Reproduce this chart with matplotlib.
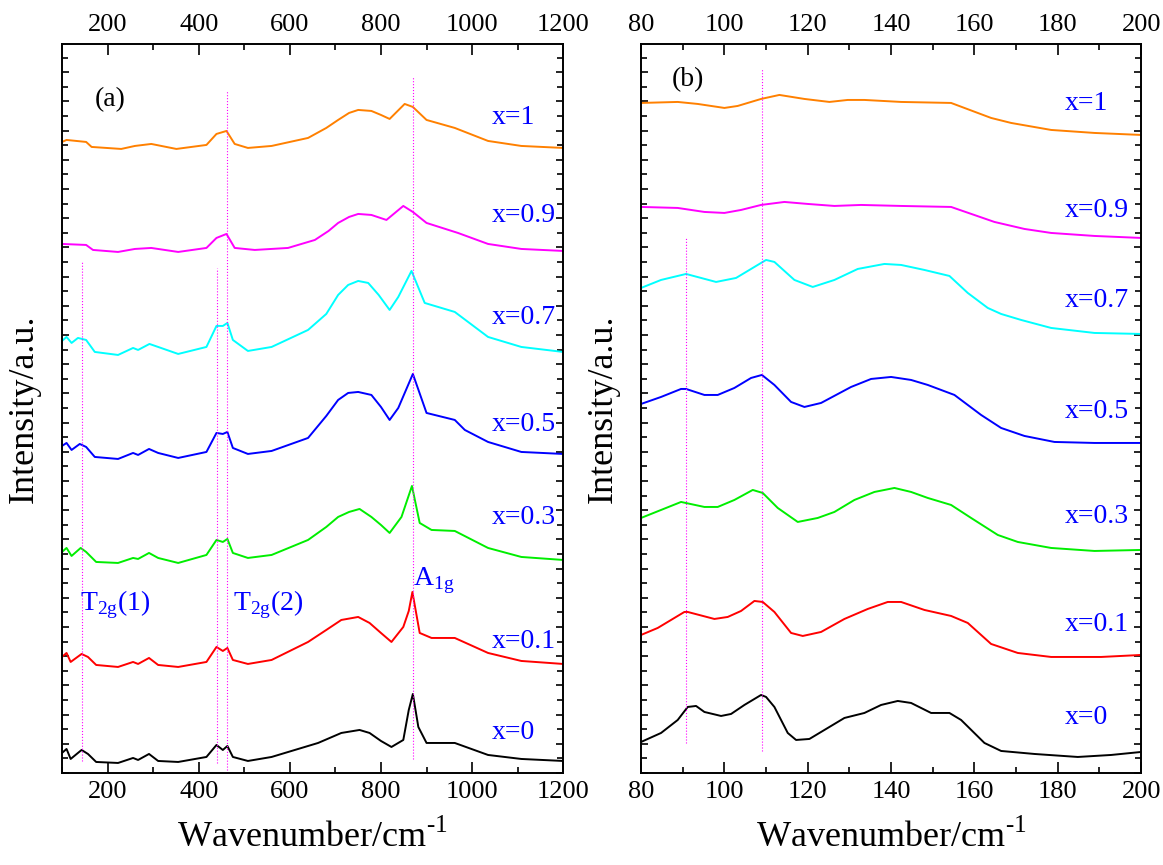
import matplotlib.pyplot as plt
from matplotlib.ticker import MultipleLocator, NullFormatter

plt.rcParams['font.family'] = ['Liberation Serif', 'DejaVu Serif']
plt.rcParams['mathtext.fontset'] = 'custom'
plt.rcParams['mathtext.rm'] = 'Liberation Serif'

# ---- panel (a): full range, offset spectra (arbitrary units) ----
a1_wn = [100, 110, 153, 165, 230, 260, 296, 351, 417, 439, 461, 479, 508, 560, 640, 680, 706, 730, 750, 779, 800, 819, 852, 870, 900, 962, 1035, 1108, 1200]
a1_int = [631, 633, 631, 626, 624, 627, 629, 624, 628, 639, 642, 629, 625, 627, 635, 645, 653, 660, 663, 662, 658, 654, 669, 666, 653, 645, 632, 627, 625]

a09_wn = [100, 153, 168, 223, 260, 296, 355, 417, 439, 461, 479, 523, 596, 655, 685, 706, 730, 750, 779, 812, 849, 870, 900, 969, 1035, 1108, 1200]
a09_int = [529, 528, 523, 521, 524, 525, 521, 525, 535, 539, 525, 523, 525, 533, 542, 550, 556, 559, 558, 553, 567, 561, 550, 540, 529, 524, 522]

a07_wn = [100, 110, 121, 135, 153, 172, 223, 256, 267, 292, 311, 355, 417, 439, 453, 463, 475, 508, 560, 640, 680, 706, 728, 750, 772, 795, 819, 838, 867, 896, 962, 1035, 1108, 1200]
a07_int = [432, 436, 430, 435, 433, 421, 418, 425, 423, 429, 426, 419, 426, 447, 447, 450, 433, 422, 426, 443, 459, 478, 488, 492, 490, 478, 463, 476, 502, 470, 461, 436, 426, 421]

a05_wn = [100, 110, 121, 139, 153, 172, 223, 256, 267, 291, 311, 355, 417, 439, 453, 463, 475, 508, 560, 640, 680, 706, 728, 750, 779, 800, 819, 838, 870, 900, 962, 984, 1035, 1108, 1200]
a05_int = [327, 330, 323, 329, 326, 316, 314, 320, 318, 324, 320, 315, 321, 340, 339, 341, 325, 319, 322, 335, 357, 373, 380, 381, 378, 366, 353, 365, 399, 360, 353, 343, 331, 321, 319]

a03_wn = [100, 110, 121, 141, 153, 175, 223, 256, 267, 291, 311, 355, 417, 439, 453, 463, 475, 508, 560, 640, 680, 706, 730, 753, 779, 800, 819, 845, 868, 885, 911, 962, 1035, 1108, 1200]
a03_int = [221, 225, 217, 225, 221, 211, 210, 215, 214, 220, 215, 210, 218, 233, 231, 234, 220, 215, 218, 233, 246, 256, 261, 264, 256, 248, 240, 256, 287, 250, 243, 242, 225, 216, 213]

a01_wn = [100, 110, 119, 143, 157, 175, 223, 256, 267, 291, 311, 355, 417, 439, 453, 463, 475, 508, 560, 640, 680, 713, 750, 775, 800, 823, 849, 861, 869, 885, 911, 962, 1035, 1108, 1200]
a01_int = [116, 120, 111, 119, 116, 108, 106, 111, 109, 115, 108, 106, 111, 126, 122, 125, 113, 109, 113, 131, 143, 153, 156, 150, 140, 131, 146, 162, 181, 140, 135, 135, 120, 112, 109]

a0_wn = [100, 110, 119, 143, 157, 175, 223, 256, 267, 291, 311, 355, 417, 439, 453, 463, 475, 508, 560, 662, 713, 753, 775, 800, 823, 849, 861, 870, 882, 900, 962, 1035, 1108, 1200]
a0_int = [20, 24, 14, 23, 19, 11, 10, 15, 13, 19, 12, 11, 16, 28, 23, 27, 16, 12, 16, 30, 40, 43, 40, 32, 26, 33, 63, 79, 46, 30, 30, 18, 14, 12]

# ---- panel (b): low-wavenumber range ----
b1_wn = [80, 88.8, 93.6, 100, 103.2, 108.8, 113.2, 119.2, 125.2, 129.6, 133.6, 142.4, 154.4, 164, 168.8, 178.4, 188.8, 200]
b1_int = [670, 671, 669, 665, 667, 674, 678, 674, 671, 673, 673, 671, 670, 655, 650, 643, 640, 638]

b09_wn = [80, 88.8, 95.2, 100, 104, 108.8, 114.4, 120, 126.4, 132.8, 142.4, 154.4, 164.8, 172, 178.4, 188.8, 200]
b09_int = [566, 565, 561, 560, 563, 568, 571, 569, 567, 568, 567, 566, 551, 544, 540, 537, 535]

b07_wn = [80, 84.8, 90.8, 98, 102.8, 110, 112, 116.8, 121.2, 126.4, 132, 138.4, 142.4, 148, 154, 158.4, 163.2, 166.4, 171.2, 178.4, 188.8, 200]
b07_int = [485, 493, 499, 491, 495, 513, 511, 493, 486, 493, 504, 509, 508, 503, 497, 480, 465, 459, 453, 445, 440, 439]

b05_wn = [80, 84.8, 89.6, 90.8, 95.2, 98.4, 102.4, 106.4, 109, 112, 116, 119.2, 123.2, 130.4, 135.2, 140, 144.8, 148.8, 155.2, 161.6, 166.4, 172, 179.2, 188.8, 200]
b05_int = [369, 376, 384, 384, 378, 378, 385, 395, 398, 388, 371, 366, 370, 386, 394, 396, 393, 388, 378, 358, 345, 337, 331, 330, 330]

b03_wn = [80, 84.8, 89.6, 95.2, 98.4, 102.4, 106.8, 109.2, 112.8, 117.6, 122.4, 126.4, 131.2, 136, 140.8, 144.8, 148.8, 154.4, 159.2, 165.6, 170.4, 178.4, 188.8, 200]
b03_int = [255, 263, 271, 266, 266, 273, 283, 280, 265, 251, 255, 261, 273, 281, 285, 281, 275, 268, 255, 238, 231, 225, 222, 223]

b01_wn = [80, 84, 90.4, 91.2, 97.6, 100.8, 104, 107.2, 109.2, 112, 116, 118.8, 123.2, 128.8, 134.4, 139.2, 142.4, 148, 154.4, 158.4, 164, 170.4, 178.4, 190.4, 200]
b01_int = [138, 145, 161, 161, 154, 156, 162, 172, 171, 161, 140, 137, 141, 154, 164, 171, 171, 163, 157, 150, 129, 120, 116, 116, 118]

b0_wn = [80, 84.8, 88.8, 91.2, 93.2, 95.2, 99.2, 101.6, 104.8, 108.8, 110, 112, 115.2, 117.2, 120.4, 124.8, 128.8, 133.6, 137.6, 141.6, 144.8, 149.6, 154, 156.8, 162.4, 166.4, 174.4, 184.8, 192.8, 200]
b0_int = [31, 40, 53, 66, 67, 61, 57, 59, 68, 78, 76, 66, 40, 33, 34, 45, 55, 60, 68, 72, 70, 60, 60, 53, 30, 22, 19, 16, 18, 21]

colors = ['#ff8000', '#ff00ff', '#00ffff', '#0000ff', '#00ee00', '#ff0000', '#000000']
names = ['x=1', 'x=0.9', 'x=0.7', 'x=0.5', 'x=0.3', 'x=0.1', 'x=0']

a_curves = [(a1_wn, a1_int), (a09_wn, a09_int), (a07_wn, a07_int), (a05_wn, a05_int),
            (a03_wn, a03_int), (a01_wn, a01_int), (a0_wn, a0_int)]
b_curves = [(b1_wn, b1_int), (b09_wn, b09_int), (b07_wn, b07_int), (b05_wn, b05_int),
            (b03_wn, b03_int), (b01_wn, b01_int), (b0_wn, b0_int)]

a_label_y = [655, 557, 455, 348, 255, 131, 40]
b_label_y = [669, 562, 472, 361, 256, 148, 55]

# guide lines: position, bottom, top
a_guides = [(145, 12, 511), (441, 10, 505), (462, 0, 683), (870, 14, 697)]
b_guides = [(90.8, 30, 536), (109, 22, 704)]

fig = plt.figure(figsize=(11.63, 8.65), dpi=100)
ax1 = fig.add_axes([0.0533, 0.1064, 0.431, 0.8428])
ax2 = fig.add_axes([0.5512, 0.1064, 0.430, 0.8428])

xlab = 'Wavenumber/cm' + r'$^{\text{-}1}$'


def style(ax, xmin, xmax, major, minor):
    ax.set_xlim(xmin, xmax)
    ax.set_ylim(0, 729)
    ax.xaxis.set_major_locator(MultipleLocator(major))
    ax.xaxis.set_minor_locator(MultipleLocator(minor))
    ax.yaxis.set_major_locator(MultipleLocator(29.2))
    ax.yaxis.set_minor_locator(MultipleLocator(14.6))
    ax.yaxis.set_major_formatter(NullFormatter())
    ax.tick_params(which='both', direction='in', top=True, right=True,
                   labeltop=True, labelsize=19, width=1.2)
    ax.tick_params(which='major', length=8)
    ax.tick_params(which='minor', length=4)
    ax.tick_params(axis='y', which='major', length=5)
    ax.tick_params(axis='x', pad=6)
    for s in ax.spines.values():
        s.set_linewidth(1.4)
    ax.set_xlabel(xlab, fontsize=26, labelpad=12)
    ax.set_ylabel('Intensity/a.u.', fontsize=26, labelpad=12)


style(ax1, 100, 1200, 200, 100)
style(ax2, 80, 200, 20, 10)
ax1.set_xticks([200, 400, 600, 800, 1000, 1200])

for (wn, it), c in zip(a_curves, colors):
    ax1.plot(wn, it, color=c, lw=1.4)
for (wn, it), c in zip(b_curves, colors):
    ax2.plot(wn, it, color=c, lw=1.4)

for xg, y0, y1 in a_guides:
    ax1.plot([xg, xg], [y0, y1], color='#ff00ff', lw=0.8, ls=':')
for xg, y0, y1 in b_guides:
    ax2.plot([xg, xg], [y0, y1], color='#ff00ff', lw=0.8, ls=':')

for n, y in zip(names, a_label_y):
    ax1.text(1043, y, n, color='blue', fontsize=20, va='center')
for n, y in zip(names, b_label_y):
    ax2.text(181.6, y, n, color='blue', fontsize=20, va='center')

ax1.text(172, 673, '(a)', fontsize=20, va='center')
ax2.text(87.3, 693, '(b)', fontsize=20, va='center')
ax1.text(139, 168, r'T$_{\rm 2g}$(1)', color='blue', fontsize=20, va='center')
ax1.text(475, 168, r'T$_{\rm 2g}$(2)', color='blue', fontsize=20, va='center')
ax1.text(870, 192, r'A$_{\rm 1g}$', color='blue', fontsize=20, va='center')

fig.savefig('out.png', dpi=100)
